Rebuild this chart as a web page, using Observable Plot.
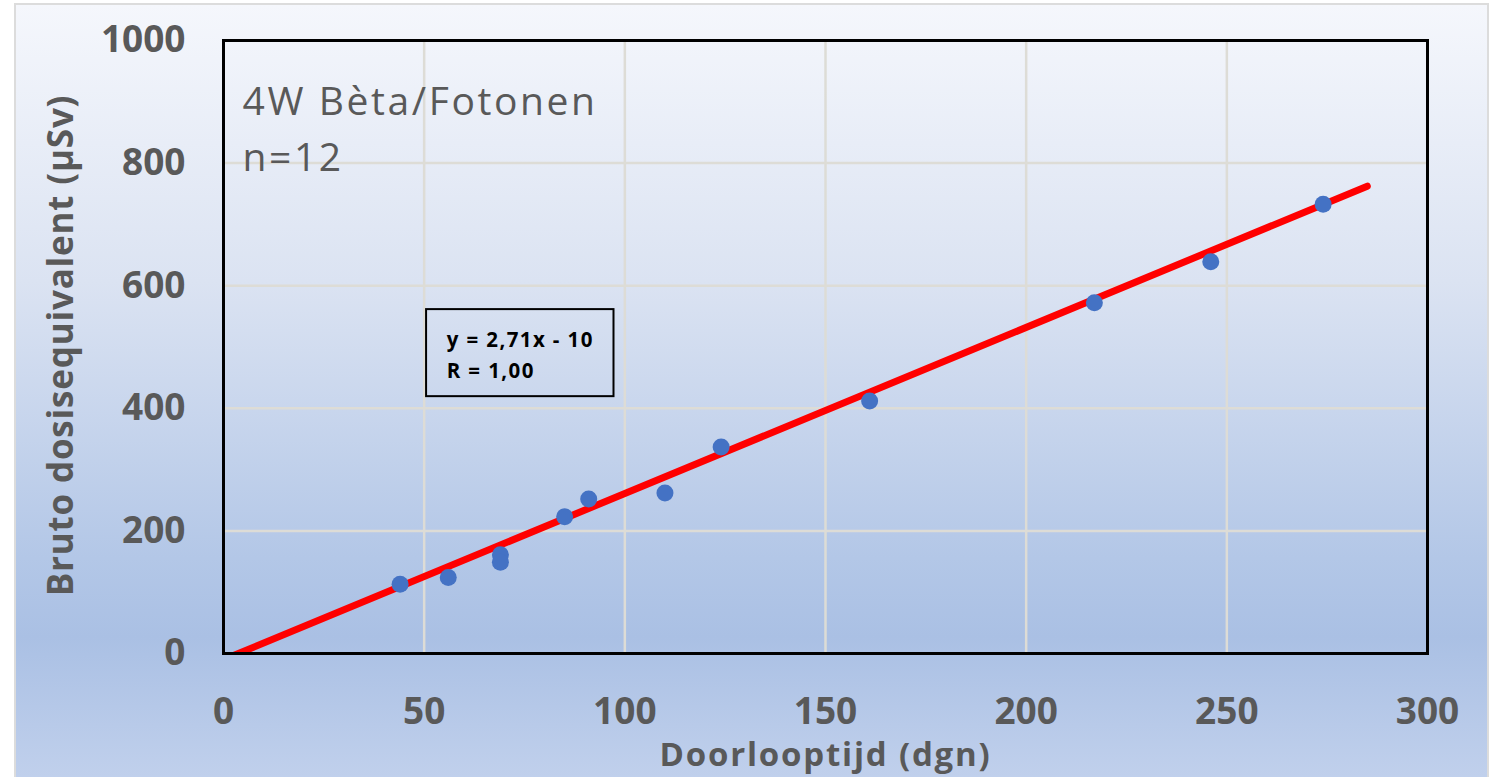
<!DOCTYPE html>
<html><head><meta charset="utf-8">
<script src="https://cdn.jsdelivr.net/npm/d3@7"></script>
<script src="https://cdn.jsdelivr.net/npm/@observablehq/plot@0.6"></script>
<style>
html,body{margin:0;padding:0;background:#fff;}
#wrap{position:relative;width:1493px;height:777px;overflow:hidden;}
#bg{position:absolute;left:14px;top:3px;width:1471px;height:790px;border:2px solid #dcdcdc;
  background:linear-gradient(180deg,#f5f7fc 0%,#dbe3f2 35%,#b3c7e7 70%,#aac0e4 80%,#c3d2ed 100%);}
#chart{position:absolute;left:0;top:0;}
</style></head><body>
<div id="wrap"><div id="bg"></div><div id="chart"></div></div>
<script>
// Data
const days = [44, 56, 69, 69, 85, 91, 110, 124, 161, 217, 246, 274];
const dose = [113, 124, 161, 149, 223, 252, 262, 337, 412, 572, 639, 733];
const xTicks = [0, 50, 100, 150, 200, 250, 300];
const yTicks = [0, 200, 400, 600, 800, 1000];
const trendSlope = 2.71;
const trendIntercept = -10;
const trendRange = [0, 285];
const xLabel = "Doorlooptijd (dgn)";
const yLabel = "Bruto dosisequivalent (µSv)";
const seriesTitle = ["4W Bèta/Fotonen", "n=12"];
const equation = ["y = 2,71x - 10", "R = 1,00"];

const points = days.map((d, i) => ({x: d, y: dose[i]}));
const trend = trendRange.map(x => ({x, y: trendSlope * x + trendIntercept}));
const gray = "#595959";

const plot = Plot.plot({
  width: 1493, height: 777,
  marginLeft: 223, marginRight: 66, marginTop: 40, marginBottom: 124,
  style: {background: "transparent", fontFamily: "'Open Sans', sans-serif", overflow: "visible"},
  x: {domain: [0, 300]},
  y: {domain: [0, 1000]},
  marks: [
    Plot.gridX(xTicks.slice(1, -1), {stroke: "#dddcd6", strokeOpacity: 1, strokeWidth: 2.5}),
    Plot.gridY(yTicks.slice(1, -1), {stroke: "#dddcd6", strokeOpacity: 1, strokeWidth: 2.5}),
    Plot.axisX(xTicks, {tickSize: 0, tickPadding: 44, fontSize: 37, fontWeight: "bold", color: gray, label: null, tickFormat: d => String(d)}),
    Plot.axisY(yTicks, {tickSize: 0, tickPadding: 38, fontSize: 37, fontWeight: "bold", color: gray, label: null, tickFormat: d => String(d)}),
    Plot.text([xLabel], {frameAnchor: "bottom", lineAnchor: "bottom", dy: 112, fontSize: 33, fontWeight: "bold", fill: gray}),
    Plot.text([yLabel], {frameAnchor: "left", textAnchor: "middle", lineAnchor: "bottom", rotate: -90, dx: -151, dy: -1.5, fontSize: 35, fontWeight: "bold", fill: gray}),
    Plot.text([seriesTitle.join("\n")], {frameAnchor: "top-left", textAnchor: "start", lineAnchor: "top", lineHeight: 1.43, dx: 19, dy: 35, fontSize: 39, fill: gray}),
    Plot.line(trend, {x: "x", y: "y", stroke: "#ff0000", strokeWidth: 7, strokeLinecap: "round", clip: true}),
    Plot.dot(points, {x: "x", y: "y", r: 8.5, fill: "#4472c4", stroke: null}),
    Plot.rect([equation], {x1: 50.6, x2: 97.3, y1: 419, y2: 561, stroke: "#000", strokeWidth: 2, fill: "none"}),
    Plot.text([equation.join("\n")], {x: 55.6, y: 450, textAnchor: "start", lineAnchor: "bottom", lineHeight: 1.5, fontSize: 20.5, fontWeight: "bold", fill: "#000"}),
    Plot.frame({stroke: "#000", strokeWidth: 3})
  ]
});
// letter spacing tweaks to match the reference's wider type
const spacing = new Map([[xLabel, 1.8], [yLabel, 0.8], [seriesTitle.join(""), 2.6], [equation.join(""), 1.4]]);
d3.select(plot).selectAll("text").each(function() {
  const s = spacing.get(this.textContent);
  if (s != null) this.setAttribute("letter-spacing", s);
});
document.getElementById("chart").appendChild(plot);
</script>
</body></html>
